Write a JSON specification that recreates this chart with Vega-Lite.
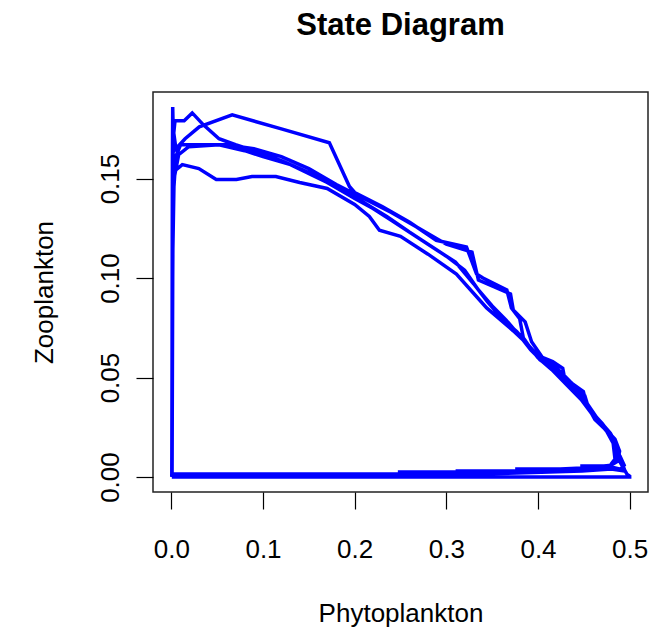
{
  "$schema": "https://vega.github.io/schema/vega-lite/v6.json",
  "width": 495,
  "height": 400,
  "autosize": {"type": "none"},
  "padding": {"left": 153, "top": 92, "right": 11, "bottom": 136},
  "background": "white",
  "title": {"text": "State Diagram", "fontSize": 31, "fontWeight": "bold", "font": "Liberation Sans", "anchor": "middle", "frame": "group", "baseline": "alphabetic", "offset": 26, "color": "black"},
  "config": {
    "view": {"stroke": "#222222", "strokeWidth": 1.5},
    "axis": {"grid": false, "domain": false, "tickColor": "black", "tickWidth": 1.2, "tickSize": 17, "labelFont": "Liberation Sans", "labelFontSize": 26, "labelColor": "black", "titleFont": "Liberation Sans", "titleFontSize": 26, "titleFontWeight": "normal", "titleColor": "black"}
  },
  "data": {"values": [
    {"P":0.0005,"Z":0.0},{"P":0.5,"Z":0.0},{"P":0.5,"Z":0.0005},{"P":0.497,"Z":0.0015},{"P":0.4895,"Z":0.0076},{"P":0.4845,"Z":0.014},{"P":0.48,"Z":0.021},{"P":0.462,"Z":0.029},{"P":0.453,"Z":0.0365},{"P":0.4495,"Z":0.043},{"P":0.429,"Z":0.0497},{"P":0.427,"Z":0.0547},{"P":0.416,"Z":0.058},{"P":0.4,"Z":0.061},{"P":0.39,"Z":0.066},{"P":0.384,"Z":0.07},{"P":0.38,"Z":0.0796},{"P":0.371,"Z":0.085},{"P":0.366,"Z":0.094},{"P":0.34,"Z":0.1},{"P":0.333,"Z":0.102},{"P":0.322,"Z":0.1156},{"P":0.289,"Z":0.119},{"P":0.26,"Z":0.128},{"P":0.23,"Z":0.136},{"P":0.2,"Z":0.143},{"P":0.1943,"Z":0.146},{"P":0.1724,"Z":0.168},{"P":0.12,"Z":0.175},{"P":0.0664,"Z":0.182},{"P":0.0305,"Z":0.176},{"P":0.015,"Z":0.17},{"P":0.005,"Z":0.165},{"P":0.002,"Z":0.175},{"P":0.0015,"Z":0.186},{"P":0.0012,"Z":0.16},{"P":0.001,"Z":0.12},{"P":0.0008,"Z":0.06},{"P":0.0006,"Z":0.02},{"P":0.0005,"Z":0.0012},
    {"P":0.249,"Z":0.0012},{"P":0.249,"Z":0.0025},{"P":0.312,"Z":0.0025},{"P":0.312,"Z":0.003},{"P":0.377,"Z":0.003},{"P":0.377,"Z":0.004},{"P":0.448,"Z":0.004},{"P":0.448,"Z":0.0056},{"P":0.48,"Z":0.0056},{"P":0.48,"Z":0.0067},{"P":0.484,"Z":0.009},{"P":0.482,"Z":0.017},{"P":0.475,"Z":0.023},{"P":0.46,"Z":0.031},{"P":0.447,"Z":0.039},{"P":0.432,"Z":0.046},{"P":0.415,"Z":0.054},{"P":0.4,"Z":0.06},{"P":0.388,"Z":0.067},{"P":0.373,"Z":0.0735},{"P":0.344,"Z":0.085},{"P":0.311,"Z":0.102},{"P":0.28,"Z":0.112},{"P":0.25,"Z":0.121},{"P":0.227,"Z":0.124},{"P":0.216,"Z":0.131},{"P":0.2,"Z":0.137},{"P":0.17,"Z":0.145},{"P":0.14,"Z":0.148},{"P":0.114,"Z":0.151},{"P":0.088,"Z":0.151},{"P":0.071,"Z":0.1495},{"P":0.049,"Z":0.1495},{"P":0.03,"Z":0.155},{"P":0.012,"Z":0.157},{"P":0.004,"Z":0.154},{"P":0.002,"Z":0.14},{"P":0.0015,"Z":0.1},{"P":0.001,"Z":0.04},{"P":0.0007,"Z":0.0015},
    {"P":0.249,"Z":0.0015},{"P":0.312,"Z":0.002},{"P":0.377,"Z":0.0025},{"P":0.448,"Z":0.0035},{"P":0.48,"Z":0.005},{"P":0.49,"Z":0.004},{"P":0.494,"Z":0.006},{"P":0.488,"Z":0.012},{"P":0.483,"Z":0.019},{"P":0.47,"Z":0.027},{"P":0.456,"Z":0.034},{"P":0.445,"Z":0.042},{"P":0.425,"Z":0.051},{"P":0.405,"Z":0.058},{"P":0.392,"Z":0.064},{"P":0.38,"Z":0.071},{"P":0.365,"Z":0.079},{"P":0.35,"Z":0.086},{"P":0.335,"Z":0.094},{"P":0.32,"Z":0.104},{"P":0.3,"Z":0.111},{"P":0.27,"Z":0.12},{"P":0.24,"Z":0.129},{"P":0.22,"Z":0.135},{"P":0.2,"Z":0.14},{"P":0.17,"Z":0.148},{"P":0.13,"Z":0.157},{"P":0.1,"Z":0.161},{"P":0.08,"Z":0.164},{"P":0.052,"Z":0.167},{"P":0.019,"Z":0.166},{"P":0.008,"Z":0.162},{"P":0.003,"Z":0.15},{"P":0.0015,"Z":0.11},{"P":0.001,"Z":0.04},{"P":0.0006,"Z":0.001},
    {"P":0.249,"Z":0.001},{"P":0.312,"Z":0.0015},{"P":0.377,"Z":0.002},{"P":0.448,"Z":0.003},{"P":0.48,"Z":0.004},{"P":0.495,"Z":0.003},{"P":0.49,"Z":0.009},{"P":0.486,"Z":0.016},{"P":0.479,"Z":0.022},{"P":0.464,"Z":0.03},{"P":0.452,"Z":0.038},{"P":0.44,"Z":0.044},{"P":0.42,"Z":0.053},{"P":0.402,"Z":0.059},{"P":0.39,"Z":0.066},{"P":0.377,"Z":0.073},{"P":0.36,"Z":0.08},{"P":0.345,"Z":0.088},{"P":0.33,"Z":0.097},{"P":0.31,"Z":0.108},{"P":0.29,"Z":0.114},{"P":0.26,"Z":0.123},{"P":0.235,"Z":0.131},{"P":0.21,"Z":0.138},{"P":0.18,"Z":0.146},{"P":0.15,"Z":0.153},{"P":0.12,"Z":0.159},{"P":0.09,"Z":0.164},{"P":0.07,"Z":0.167},{"P":0.052,"Z":0.17},{"P":0.035,"Z":0.177},{"P":0.0228,"Z":0.183},{"P":0.014,"Z":0.179},{"P":0.004,"Z":0.179},{"P":0.002,"Z":0.17},{"P":0.0015,"Z":0.12},{"P":0.001,"Z":0.05},{"P":0.0006,"Z":0.0012},
    {"P":0.249,"Z":0.0012},{"P":0.312,"Z":0.002},{"P":0.377,"Z":0.003},{"P":0.448,"Z":0.0045},{"P":0.48,"Z":0.006},{"P":0.487,"Z":0.008},{"P":0.489,"Z":0.013},{"P":0.484,"Z":0.019},{"P":0.468,"Z":0.027},{"P":0.455,"Z":0.035},{"P":0.451,"Z":0.041},{"P":0.435,"Z":0.048},{"P":0.42,"Z":0.055},{"P":0.405,"Z":0.06},{"P":0.393,"Z":0.068},{"P":0.386,"Z":0.078},{"P":0.373,"Z":0.084},{"P":0.37,"Z":0.092},{"P":0.335,"Z":0.099},{"P":0.328,"Z":0.113},{"P":0.3,"Z":0.117},{"P":0.27,"Z":0.125},{"P":0.24,"Z":0.133},{"P":0.21,"Z":0.14},{"P":0.18,"Z":0.147},{"P":0.15,"Z":0.155},{"P":0.12,"Z":0.161},{"P":0.09,"Z":0.165},{"P":0.06,"Z":0.167},{"P":0.03,"Z":0.167},{"P":0.01,"Z":0.167},{"P":0.004,"Z":0.16},{"P":0.002,"Z":0.145},{"P":0.0015,"Z":0.1},{"P":0.001,"Z":0.03},{"P":0.0008,"Z":0.0}
  ]},
  "mark": {"type": "line", "color": "#0000FF", "strokeWidth": 3.5, "strokeJoin": "miter", "clip": true},
  "encoding": {
    "x": {"field": "P", "type": "quantitative", "title": "Phytoplankton",
      "scale": {"domain": [-0.02, 0.52], "nice": false, "zero": false},
      "axis": {"values": [0, 0.1, 0.2, 0.3, 0.4, 0.5], "format": ".1f", "labelPadding": 27, "titlePadding": 38, "labelFlush": false}},
    "y": {"field": "Z", "type": "quantitative", "title": "Zooplankton",
      "scale": {"domain": [-0.0075, 0.1935], "nice": false, "zero": false},
      "axis": {"values": [0, 0.05, 0.1, 0.15], "format": ".2f", "labelAngle": 270, "labelAlign": "center", "labelBaseline": "bottom", "labelPadding": 13, "titlePadding": 40, "labelFlush": false}},
    "order": {"value": null}
  }
}
